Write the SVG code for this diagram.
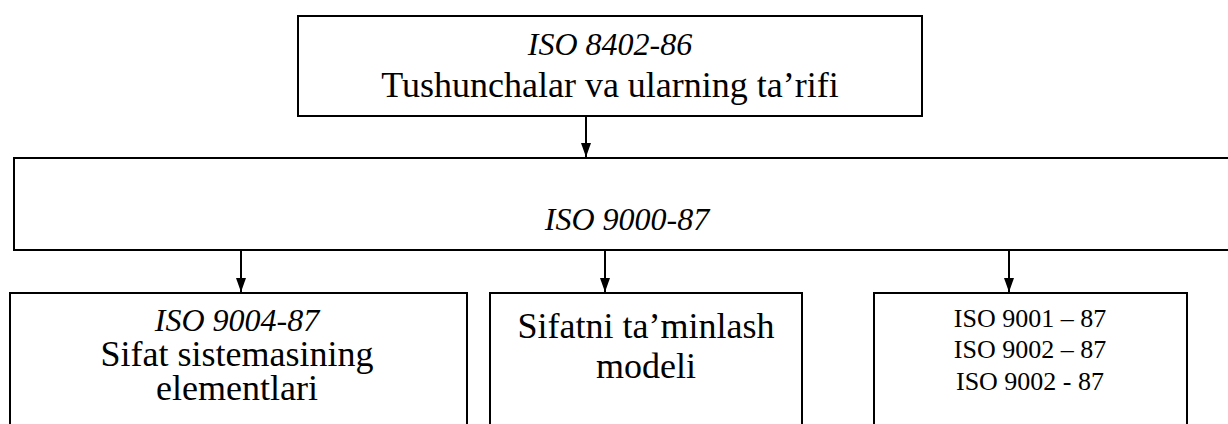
<svg xmlns="http://www.w3.org/2000/svg" width="1228" height="424" viewBox="0 0 1228 424">
<style>
.box{fill:#fff;stroke:#000;stroke-width:2}
.t{font-family:"Liberation Serif","Times New Roman",serif;fill:#000;text-anchor:middle}
.i{font-style:italic}
.c{stroke:#000;stroke-width:2;fill:none}
</style>
<defs>
<marker id="ah" viewBox="0 0 14 10" refX="14" refY="5" markerWidth="14" markerHeight="10" markerUnits="userSpaceOnUse" orient="auto">
<path d="M0,0 L14,5 L0,10 Z" fill="#000"/>
</marker>
</defs>
<rect width="1228" height="424" fill="#fff"/>
<g id="top">
<rect class="box" x="298" y="16" width="624" height="100"/>
<text class="t i" x="610" y="55" font-size="32">ISO 8402-86</text>
<text class="t" x="610" y="97" font-size="36">Tushunchalar va ularning ta’rifi</text>
</g>
<g id="main">
<rect class="box" x="14" y="158" width="1230" height="92"/>
<text class="t i" x="627" y="230" font-size="32">ISO 9000-87</text>
</g>
<g id="b1">
<rect class="box" x="10" y="293" width="457" height="150"/>
<text class="t i" x="237" y="331" font-size="32">ISO 9004-87</text>
<text class="t" x="237" y="366" font-size="36">Sifat sistemasining</text>
<text class="t" x="237" y="400" font-size="36">elementlari</text>
</g>
<g id="b2">
<rect class="box" x="490" y="293" width="312" height="150"/>
<text class="t" x="646" y="338" font-size="36">Sifatni ta’minlash</text>
<text class="t" x="646" y="378" font-size="36">modeli</text>
</g>
<g id="b3">
<rect class="box" x="874" y="293" width="313" height="150"/>
<text class="t" x="1030" y="327" font-size="26">ISO 9001 – 87</text>
<text class="t" x="1030" y="358" font-size="26">ISO 9002 – 87</text>
<text class="t" x="1030" y="390" font-size="26">ISO 9002 - 87</text>
</g>
<g id="connectors">
<line class="c" x1="586" y1="117" x2="586" y2="157" marker-end="url(#ah)"/>
<line class="c" x1="241" y1="251" x2="241" y2="292" marker-end="url(#ah)"/>
<line class="c" x1="605" y1="251" x2="605" y2="292" marker-end="url(#ah)"/>
<line class="c" x1="1009" y1="251" x2="1009" y2="292" marker-end="url(#ah)"/>
</g>
</svg>
